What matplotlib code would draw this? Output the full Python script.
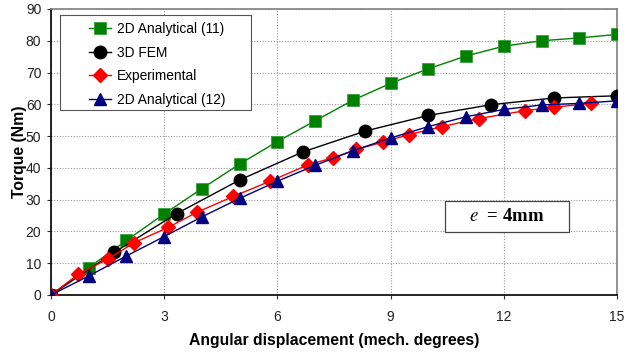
import matplotlib
matplotlib.use("Agg")
import matplotlib.pyplot as plt
from matplotlib.patches import Rectangle

plt.rcParams['font.family'] = ['Liberation Sans', 'DejaVu Sans']
plt.rcParams['mathtext.fontset'] = 'stix'

# Data
x_an11 = [0, 1, 2, 3, 4, 5, 6, 7, 8, 9, 10, 11, 12, 13, 14, 15]
y_an11 = [0, 8.6, 17.2, 25.5, 33.5, 41.2, 48.3, 54.8, 61.3, 66.6, 71.2, 75.2, 78.3, 80.0, 80.9, 82.0]

x_fem = [0, 1.67, 3.33, 5.0, 6.67, 8.33, 10.0, 11.67, 13.33, 15.0]
y_fem = [0, 13.4, 25.6, 36.2, 45.0, 51.6, 56.5, 59.9, 62.0, 62.7]

x_exp = [0, 0.72, 1.52, 2.21, 3.11, 3.86, 4.83, 5.80, 6.82, 7.48, 8.09, 8.79, 9.49, 10.37, 11.33, 12.56, 13.33, 14.31]
y_exp = [0, 6.5, 11.4, 16.5, 21.3, 26.0, 31.0, 35.8, 41.0, 43.2, 45.8, 48.1, 50.5, 53.0, 55.5, 58.0, 59.1, 60.3]

x_an12 = [0, 1, 2, 3, 4, 5, 6, 7, 8, 9, 10, 11, 12, 13, 14, 15]
y_an12 = [0, 6.0, 12.3, 18.4, 24.6, 30.4, 35.8, 40.8, 45.4, 49.4, 53.0, 56.1, 58.4, 59.8, 60.3, 61.1]

xticks = [0, 3, 6, 9, 12, 15]
yticks = [0, 10, 20, 30, 40, 50, 60, 70, 80, 90]

fig = plt.figure(figsize=(6.24, 3.58), dpi=100)
ax = fig.add_axes([51/624, 1 - 295/358, 566/624, 286/358])

ax.plot(x_an11, y_an11, color='#008000', lw=1.0, marker='s', ms=9,
        mfc='#008000', mec='#2a9a2a', mew=0.5, label='2D Analytical (11)', zorder=3)
ax.plot(x_fem, y_fem, color='black', lw=1.0, marker='o', ms=9,
        mfc='black', mec='black', label='3D FEM', zorder=4)
ax.plot(x_exp, y_exp, color='#ff0000', lw=1.0, marker='D', ms=6.8,
        mfc='#ff0000', mec='#ff0000', label='Experimental', zorder=5)
ax.plot(x_an12, y_an12, color='#000080', lw=1.0, marker='^', ms=9,
        mfc='#000080', mec='#000080', label='2D Analytical (12)', zorder=6)

ax.set_xlim(0, 15)
ax.set_ylim(0, 90)
ax.set_xticks(xticks)
ax.set_yticks(yticks)
ax.set_xticklabels([str(v) for v in xticks])
ax.set_yticklabels([str(v) for v in yticks])
ax.tick_params(axis='both', labelsize=10, length=3, width=0.8, color='#333333', labelcolor='#222222')
ax.tick_params(axis='x', pad=8)
ax.tick_params(axis='y', pad=4)

ax.grid(True, color='#999999', linestyle=(0, (1, 1.5)), linewidth=0.8)
ax.set_axisbelow(True)

for s in ['left', 'bottom']:
    ax.spines[s].set_color('black')
    ax.spines[s].set_linewidth(1.2)
for s in ['top', 'right']:
    ax.spines[s].set_color('#808080')
    ax.spines[s].set_linewidth(1.2)

ax.set_xlabel('Angular displacement (mech. degrees)', fontsize=11.3, fontweight='bold', labelpad=6)
ax.set_ylabel('Torque (Nm)', fontsize=11.3, fontweight='bold', labelpad=-1)

# legend frame drawn manually (wide box as in reference)
ax.add_patch(Rectangle(((60-51)/566, (295-110)/286), (251-60)/566, (110-15)/286,
                       transform=ax.transAxes, fc='white', ec='#555555', lw=0.8, zorder=9))
leg = ax.legend(loc='upper left', bbox_to_anchor=((89-51)/566, (295-22)/286), fontsize=9.9,
                frameon=False, handlelength=1.6, borderpad=0, labelspacing=0.7,
                handletextpad=0.45, borderaxespad=0)
leg.set_zorder(10)

# annotation box
ax.add_patch(Rectangle(((445-51)/566, (295-232)/286), (569-445)/566, (232-201)/286,
                       transform=ax.transAxes, fc='white', ec='#444444', lw=0.9, zorder=9))
ax.text((507-51)/566, (295-216.5)/286, r'$e$  = 4mm', transform=ax.transAxes, ha='center', va='center',
        fontsize=13.5, fontweight='bold', family=['Liberation Serif', 'DejaVu Serif'], zorder=10)

fig.savefig('out.png', dpi=100)
